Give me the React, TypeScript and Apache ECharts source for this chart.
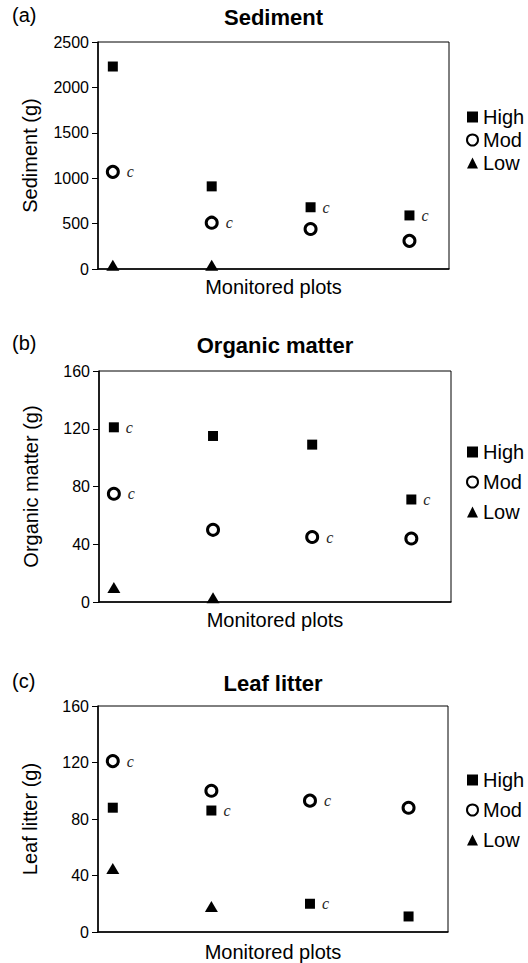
import React, { useEffect, useRef } from "react";
import * as echarts from "echarts";

const plots = [1, 2, 3, 4];

const sedimentHigh = [2230, 910, 680, 590];
const sedimentMod = [1070, 510, 440, 310];
const sedimentLow: (number | null)[] = [40, 40, null, null];
const sedimentHighC = [false, false, true, true];
const sedimentModC = [true, true, false, false];

const organicHigh = [121, 115, 109, 71];
const organicMod = [75, 50, 45, 44];
const organicLow: (number | null)[] = [10, 3, null, null];
const organicHighC = [true, false, false, true];
const organicModC = [true, false, true, false];

const leafHigh = [88, 86, 20, 11];
const leafMod = [121, 100, 93, 88];
const leafLow: (number | null)[] = [45, 18, null, null];
const leafHighC = [false, true, true, false];
const leafModC = [true, false, true, false];

const sedimentTicks = { min: 0, max: 2500, interval: 500 };
const gramTicks = { min: 0, max: 160, interval: 40 };

const panels = [
  { letter: "(a)", title: "Sediment", yName: "Sediment (g)" },
  { letter: "(b)", title: "Organic matter", yName: "Organic matter (g)" },
  { letter: "(c)", title: "Leaf litter", yName: "Leaf litter (g)" },
];

const FONT = "'Liberation Sans', Arial, sans-serif";

function buildData(vals: (number | null)[], flags?: boolean[]) {
  const out: any[] = [];
  plots.forEach((p, i) => {
    const v = vals[i];
    if (v == null) return;
    if (flags && flags[i]) out.push({ value: [p, v], label: { show: true } });
    else out.push({ value: [p, v] });
  });
  return out;
}

export default function App() {
  const ref = useRef<HTMLDivElement>(null);
  useEffect(() => {
    if (!ref.current) return;
    const chart = echarts.init(ref.current, undefined, { renderer: "svg" });

    const grids = [
      { left: 98, top: 42, width: 351, height: 227 },
      { left: 99, top: 371, width: 352, height: 231 },
      { left: 98, top: 706, width: 350, height: 226 },
    ];
    const nameGapsX = [8, 8, 10];
    const titleY = [17, 345, 683];
    const legendTop = [102, 437, 765];
    const legendGap = [3, 10, 10];

    const cLabel = {
      show: false,
      position: "right",
      distance: 7,
      formatter: "c",
      fontStyle: "italic",
      fontFamily: "'Liberation Serif', 'DejaVu Serif', serif",
      fontSize: 16,
      color: "#222",
    };

    const highStyle = { symbol: "rect", symbolSize: 10, itemStyle: { color: "#000", opacity: 1 } };
    const modStyle = {
      symbol: "circle",
      symbolSize: 11,
      itemStyle: { color: "#fff", borderColor: "#000", borderWidth: 3, opacity: 1 },
    };
    const lowStyle = { symbol: "triangle", symbolSize: [13, 11], itemStyle: { color: "#000", opacity: 1 } };

    const sets = [
      [sedimentHigh, sedimentMod, sedimentLow, sedimentHighC, sedimentModC],
      [organicHigh, organicMod, organicLow, organicHighC, organicModC],
      [leafHigh, leafMod, leafLow, leafHighC, leafModC],
    ] as any[];

    const series: any[] = [];
    sets.forEach((s, i) => {
      series.push({
        type: "scatter", name: "High", xAxisIndex: i, yAxisIndex: i,
        ...highStyle, label: cLabel, data: buildData(s[0], s[3]), z: 3,
      });
      series.push({
        type: "scatter", name: "Mod", xAxisIndex: i, yAxisIndex: i,
        ...modStyle, label: cLabel, data: buildData(s[1], s[4]), z: 3,
      });
      series.push({
        type: "scatter", name: "Low", xAxisIndex: i, yAxisIndex: i,
        ...lowStyle, data: buildData(s[2]), z: 3,
      });
    });

    const graphic: any[] = [];
    panels.forEach((p, i) => {
      graphic.push({
        type: "text", x: 12, y: titleY[i] - 2,
        style: {
          text: p.letter, font: `20px ${FONT}`, fill: "#000",
          align: "left", verticalAlign: "middle",
          textAlign: "left", textVerticalAlign: "middle",
        },
      });
      graphic.push({
        type: "text", x: grids[i].left + grids[i].width / 2, y: titleY[i],
        style: {
          text: p.title, font: `bold 22px ${FONT}`, fill: "#000",
          align: "center", verticalAlign: "middle",
          textAlign: "center", textVerticalAlign: "middle",
        },
      });
    });

    const option: any = {
      animation: false,
      backgroundColor: "#fff",
      textStyle: { fontFamily: FONT },
      grid: grids.map((g) => ({ ...g, show: true, borderColor: "#000", borderWidth: 1, backgroundColor: "transparent" })),
      xAxis: grids.map((g, i) => ({
        type: "value", gridIndex: i, min: 0.85, max: 4.4,
        name: "Monitored plots", nameLocation: "middle", nameGap: nameGapsX[i],
        nameTextStyle: { fontSize: 20, color: "#000", fontFamily: FONT, verticalAlign: "top" },
        axisLine: { show: true, onZero: false, lineStyle: { color: "#000", width: 1.5 } },
        axisTick: { show: false }, axisLabel: { show: false }, splitLine: { show: false },
      })),
      yAxis: grids.map((g, i) => ({
        type: "value", gridIndex: i,
        ...(i === 0 ? sedimentTicks : gramTicks),
        name: panels[i].yName, nameLocation: "middle", nameGap: 58,
        nameTextStyle: { fontSize: 20, color: "#000", fontFamily: FONT },
        axisLine: { show: true, lineStyle: { color: "#000", width: 1.5 } },
        axisTick: { show: true, inside: false, length: 6, lineStyle: { color: "#000" } },
        axisLabel: { fontSize: 16, color: "#000", margin: 9, fontFamily: FONT, formatter: (v: number) => String(v) },
        splitLine: { show: false },
      })),
      legend: grids.map((g, i) => ({
        orient: "vertical", left: 461, top: legendTop[i], itemGap: legendGap[i],
        itemWidth: 11, itemHeight: 11, selectedMode: false,
        textStyle: { fontSize: 20, color: "#000", fontFamily: FONT },
        data: [
          { name: "High", icon: "rect" },
          { name: "Mod", icon: "circle" },
          { name: "Low", icon: "triangle" },
        ],
      })),
      graphic,
      series,
    };
    chart.setOption(option);
    return () => chart.dispose();
  }, []);
  return (
    <div
      ref={ref}
      style={{ position: "fixed", left: 0, top: 0, width: 528, height: 963, background: "#fff" }}
    />
  );
}
